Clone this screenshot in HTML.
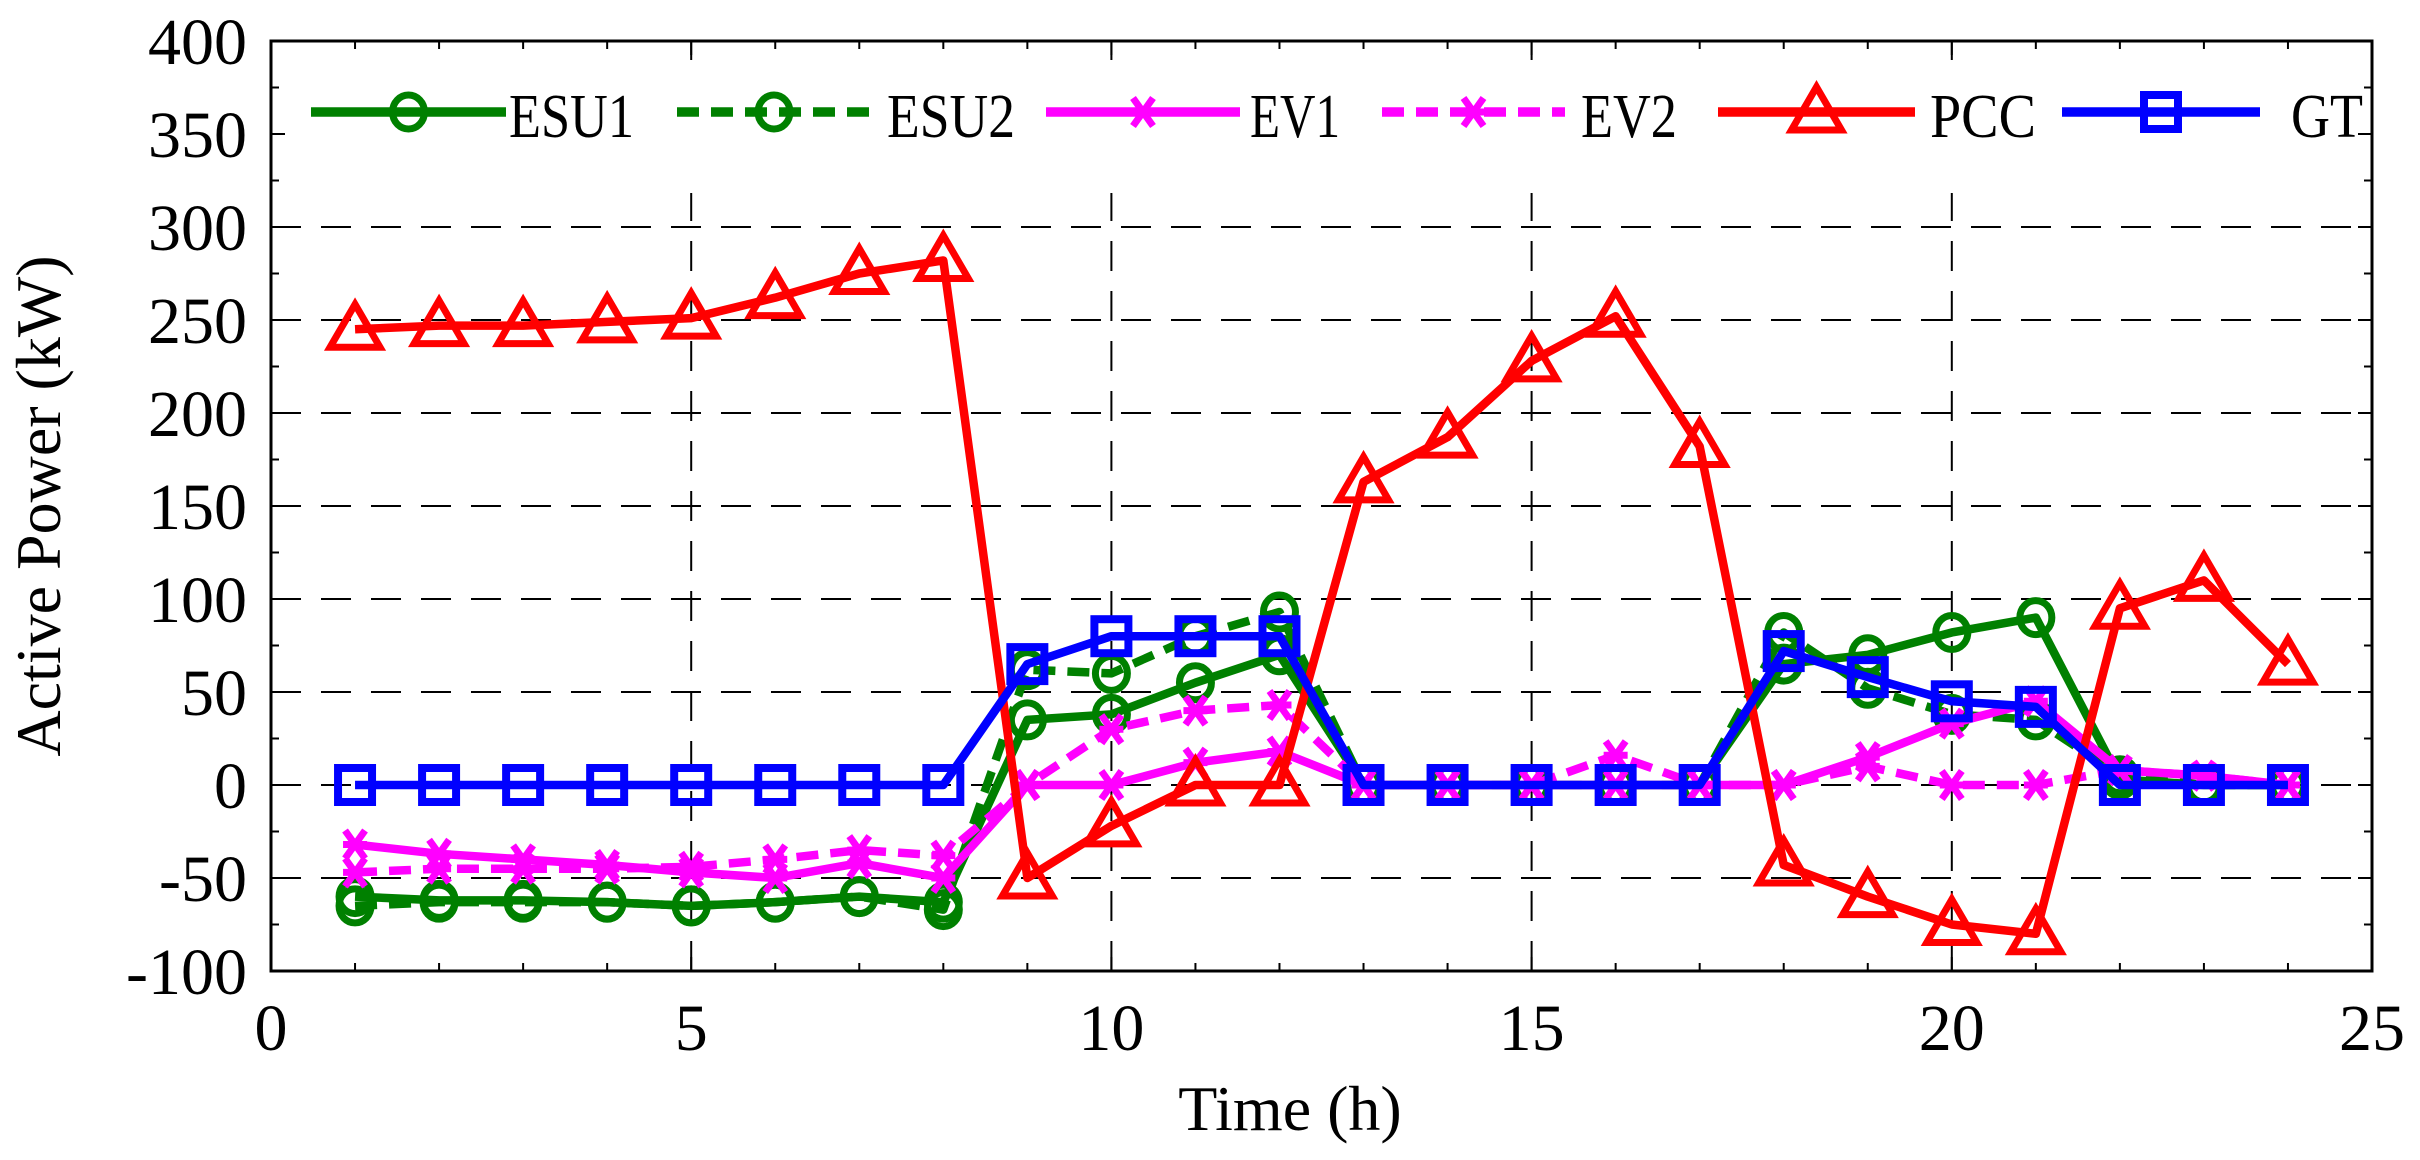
<!DOCTYPE html>
<html><head><meta charset="utf-8"><style>
html,body{margin:0;padding:0;background:#fff;}
svg{display:block;}
text{font-family:"Liberation Serif",serif;fill:#000;}
</style></head><body>
<svg id="s" width="2420" height="1160" xmlns="http://www.w3.org/2000/svg"></svg>
<script>
const L=271,R=2372,T=41,B=971;
const X=v=>L+(R-L)*v/25, Y=v=>T+(400-v)*(B-T)/500;
let h='';
h+=`<rect x="0" y="0" width="2420" height="1160" fill="#fff"/>`;
for(const v of [300,250,200,150,100,50,0,-50]) h+=`<line x1="${L}" x2="${R}" y1="${Y(v)}" y2="${Y(v)}" stroke="#000" stroke-width="2" stroke-dasharray="30,20"/>`;
for(const v of [5,10,15,20]) h+=`<line x1="${X(v)}" x2="${X(v)}" y1="${T}" y2="${B}" stroke="#000" stroke-width="2" stroke-dasharray="30,20"/>`;
h+=`<rect x="${L+3}" y="60" width="${R-L-6}" height="133" fill="#fff"/>`;
h+=`<rect x="${L}" y="${T}" width="${R-L}" height="${B-T}" fill="none" stroke="#000" stroke-width="3"/>`;
for(let i=1;i<25;i++){const l=i%5==0?14:8;h+=`<line x1="${X(i)}" x2="${X(i)}" y1="${B}" y2="${B-l}" stroke="#000" stroke-width="2"/><line x1="${X(i)}" x2="${X(i)}" y1="${T}" y2="${T+l}" stroke="#000" stroke-width="2"/>`;}
for(let v=-75;v<400;v+=25){const l=v%50==0?14:8;h+=`<line x1="${L}" x2="${L+l}" y1="${Y(v)}" y2="${Y(v)}" stroke="#000" stroke-width="2"/><line x1="${R}" x2="${R-l}" y1="${Y(v)}" y2="${Y(v)}" stroke="#000" stroke-width="2"/>`;}
for(let v=-100;v<=400;v+=50) h+=`<text x="247" y="${Y(v)+23}" font-size="66" text-anchor="end">${v}</text>`;
for(let v=0;v<=25;v+=5) h+=`<text x="${X(v)}" y="1050" font-size="66" text-anchor="middle">${v}</text>`;
h+=`<text x="1290" y="1130" font-size="64" text-anchor="middle">Time (h)</text>`;
h+=`<text transform="translate(60,506) rotate(-90)" font-size="64" text-anchor="middle">Active Power (kW)</text>`;
const G='#008000',M='#ff00ff',Rd='#ff0000',Bl='#0000ff';
function mk(type,x,y,c){
 if(type=='o') return `<ellipse cx="${x}" cy="${y}" rx="16" ry="17" fill="none" stroke="${c}" stroke-width="7"/>`;
 if(type=='x') return `<path d="M${x-10} ${y-14}L${x+10} ${y+14}M${x+10} ${y-14}L${x-10} ${y+14}M${x-12} ${y}L${x+12} ${y}" stroke="${c}" stroke-width="7" fill="none"/>`;
 if(type=='t') return `<path d="M${x} ${y-25}L${x+25} ${y+18}L${x-25} ${y+18}Z" fill="none" stroke="${c}" stroke-width="7"/>`;
 if(type=='s') return `<rect x="${x-17}" y="${y-17}" width="34" height="34" fill="none" stroke="${c}" stroke-width="8"/>`;
}
const S=[
 ['o',G,'',[-60,-62,-62,-63,-65,-63,-60,-63,35,38,55,70,0,0,0,0,0,65,70,82,90,3,0,0]],
 ['o',G,'22,12',[-65,-63,-63,-63,-65,-63,-60,-67,62,60,80,93,0,0,0,0,0,82,52,38,35,5,0,0]],
 ['x',M,'',[-32,-37,-40,-43,-47,-50,-42,-50,0,0,12,18,0,0,0,0,0,0,15,33,45,8,5,0]],
 ['x',M,'22,12',[-47,-45,-45,-45,-44,-40,-35,-38,0,30,40,43,0,0,0,16,0,0,10,0,0,8,5,0]],
 ['t',Rd,'',[245,247,247,249,251,262,275,282,-50,-22,0,0,163,187,228,252,182,-43,-60,-75,-80,95,110,65]],
 ['s',Bl,'',[0,0,0,0,0,0,0,0,65,80,80,80,0,0,0,0,0,72,58,45,42,0,0,0]]
];
for(const [t,c,d,v] of S){
 const pts=v.map((y,i)=>X(i+1)+','+Y(y)).join(' ');
 h+=`<polyline points="${pts}" fill="none" stroke="${c}" stroke-width="8.5" stroke-linejoin="round" ${d?`stroke-dasharray="${d}"`:''}/>`;
 v.forEach((y,i)=>h+=mk(t,X(i+1),Y(y),c));
}
const LG=[[311,506,509,'ESU1',0,125],[677,871,887,'ESU2',1,128],[1046,1240,1250,'EV1',2,90],[1382,1565,1581,'EV2',3,96],[1718,1915,1930,'PCC',4,106],[2062,2260,2291,'GT',5,72]];
for(const [a,b,tx,lab,k,w] of LG){
 const [t,c,d]=S[k];const ly=112;
 h+=`<line x1="${a}" x2="${b}" y1="${ly}" y2="${ly}" stroke="${c}" stroke-width="9.5" ${d?`stroke-dasharray="${d}"`:''}/>`;
 h+=mk(t,(a+b)/2,ly,c);
 h+=`<text x="${tx}" y="137" font-size="62" textLength="${w}" lengthAdjust="spacingAndGlyphs">${lab}</text>`;
}
document.getElementById('s').innerHTML=h;
</script>
</body></html>
